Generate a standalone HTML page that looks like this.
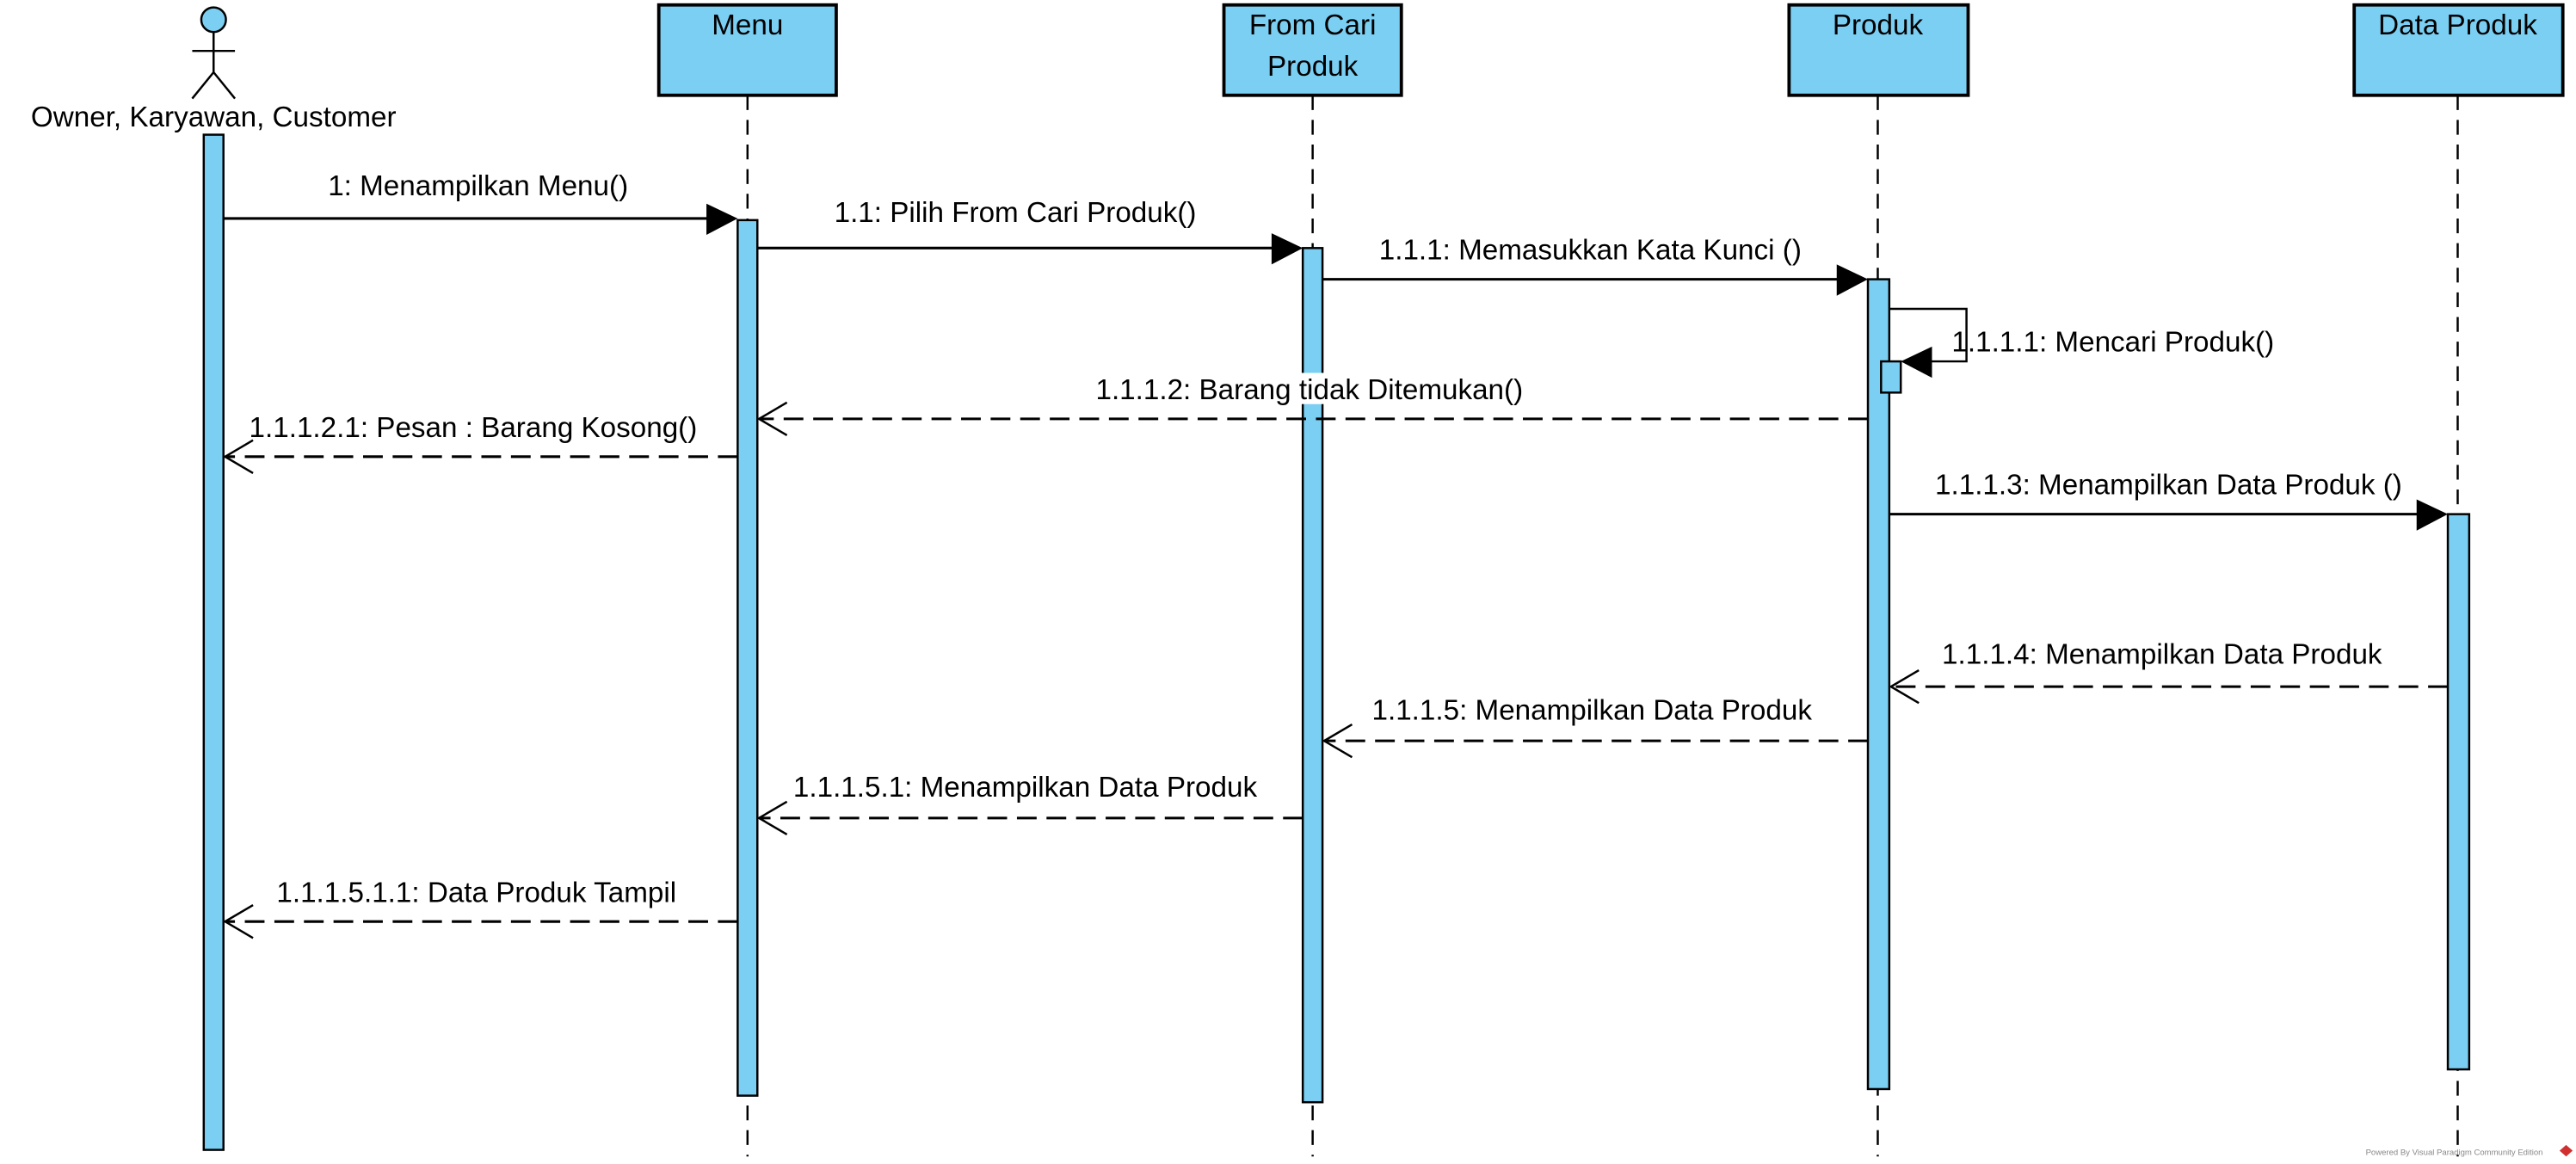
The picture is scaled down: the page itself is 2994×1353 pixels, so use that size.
<!DOCTYPE html>
<html><head><meta charset="utf-8"><style>
html,body{margin:0;padding:0;background:#fff;}
svg{display:block;}
text{font-family:"Liberation Sans",Arial,sans-serif;font-size:17.4px;fill:#000;}
</style></head><body>
<svg width="2994" height="1353" viewBox="0 0 1568 708.6" xmlns="http://www.w3.org/2000/svg">
<defs>
<style>
.box{fill:#7acff3;stroke:#000;stroke-width:2;}
.act{fill:#7acff3;stroke:#000;stroke-width:1.3;}
.ll{stroke:#000;stroke-width:1.3;stroke-dasharray:9,6;fill:none;}
.msg{stroke:#000;stroke-width:1.6;fill:none;}
.dmsg{stroke:#000;stroke-width:1.6;fill:none;stroke-dasharray:12,6;}
.open{stroke:#000;stroke-width:1.3;fill:none;}
</style>
</defs>
<rect width="1568" height="708.6" fill="#fff"/>
<line class="ll" x1="455" y1="58" x2="455" y2="704"/>
<line class="ll" x1="799" y1="58" x2="799" y2="704"/>
<line class="ll" x1="1143" y1="58" x2="1143" y2="704"/>
<line class="ll" x1="1496" y1="58" x2="1496" y2="704"/>

<circle cx="130" cy="12" r="7.5" fill="#7acff3" stroke="#000" stroke-width="1.3"/>
<line x1="130" y1="19.5" x2="130" y2="44" stroke="#000" stroke-width="1.3"/>
<line x1="117" y1="31" x2="143" y2="31" stroke="#000" stroke-width="1.3"/>
<line x1="130" y1="44" x2="117" y2="60" stroke="#000" stroke-width="1.3"/>
<line x1="130" y1="44" x2="143" y2="60" stroke="#000" stroke-width="1.3"/>
<text x="130" y="77" text-anchor="middle">Owner, Karyawan, Customer</text>

<rect class="box" x="401" y="3" width="108" height="55"/>
<text x="455" y="21" text-anchor="middle">Menu</text>
<rect class="box" x="745" y="3" width="108" height="55"/>
<text x="799" y="21" text-anchor="middle">From Cari</text>
<text x="799" y="46" text-anchor="middle">Produk</text>
<rect class="box" x="1089" y="3" width="109" height="55"/>
<text x="1143" y="21" text-anchor="middle">Produk</text>
<rect class="box" x="1433" y="3" width="127" height="55"/>
<text x="1496" y="21" text-anchor="middle">Data Produk</text>

<rect class="act" x="124" y="82" width="12" height="618"/>
<rect class="act" x="449" y="134" width="12" height="533"/>
<rect class="act" x="793" y="151" width="12" height="520"/>
<rect class="act" x="1137" y="170" width="13" height="493"/>
<rect class="act" x="1145" y="220" width="12" height="19"/>
<rect class="act" x="1490" y="313" width="13" height="338"/>

<line class="msg" x1="136" y1="133" x2="432" y2="133"/>
<polygon points="430,124 449,133 430,143" fill="#000"/>
<text x="291" y="119" text-anchor="middle">1: Menampilkan Menu()</text>
<line class="msg" x1="461" y1="151" x2="776" y2="151"/>
<polygon points="774,142 793,151 774,161" fill="#000"/>
<text x="618" y="135" text-anchor="middle">1.1: Pilih From Cari Produk()</text>
<line class="msg" x1="805" y1="170" x2="1120" y2="170"/>
<polygon points="1118,161 1137,170 1118,180" fill="#000"/>
<text x="968" y="158" text-anchor="middle">1.1.1: Memasukkan Kata Kunci ()</text>
<polyline class="msg" points="1150,188 1197,188 1197,220 1172,220" style="stroke-width:1.3"/>
<polygon points="1176,211 1157,220 1176,230" fill="#000"/>
<text x="1188" y="214">1.1.1.1: Mencari Produk()</text>
<rect x="668" y="227" width="260" height="19" fill="#fff"/>
<text x="797" y="243" text-anchor="middle">1.1.1.2: Barang tidak Ditemukan()</text>
<line class="dmsg" x1="1137" y1="255" x2="462" y2="255"/>
<polyline class="open" points="479,245 462,255 479,265"/>
<text x="288" y="266" text-anchor="middle">1.1.1.2.1: Pesan : Barang Kosong()</text>
<line class="dmsg" x1="449" y1="278" x2="137" y2="278"/>
<polyline class="open" points="154,268 137,278 154,288"/>
<line class="msg" x1="1150" y1="313" x2="1473" y2="313"/>
<polygon points="1471,304 1490,313 1471,323" fill="#000"/>
<text x="1320" y="301" text-anchor="middle">1.1.1.3: Menampilkan Data Produk ()</text>
<text x="1316" y="404" text-anchor="middle">1.1.1.4: Menampilkan Data Produk</text>
<line class="dmsg" x1="1490" y1="418" x2="1151" y2="418"/>
<polyline class="open" points="1168,408 1151,418 1168,428"/>
<text x="969" y="438" text-anchor="middle">1.1.1.5: Menampilkan Data Produk</text>
<line class="dmsg" x1="1137" y1="451" x2="806" y2="451"/>
<polyline class="open" points="823,441 806,451 823,461"/>
<text x="624" y="485" text-anchor="middle">1.1.1.5.1: Menampilkan Data Produk</text>
<line class="dmsg" x1="793" y1="498" x2="462" y2="498"/>
<polyline class="open" points="479,488 462,498 479,508"/>
<text x="290" y="549" text-anchor="middle">1.1.1.5.1.1: Data Produk Tampil</text>
<line class="dmsg" x1="449" y1="561" x2="137" y2="561"/>
<polyline class="open" points="154,551 137,561 154,571"/>

<text x="1440" y="703" style="font-size:5px;fill:#888">Powered By  Visual Paradigm Community Edition</text>
<polygon points="1562,697 1566,700.5 1562,704 1558,700.5" fill="#d03030"/>
</svg>
</body></html>
